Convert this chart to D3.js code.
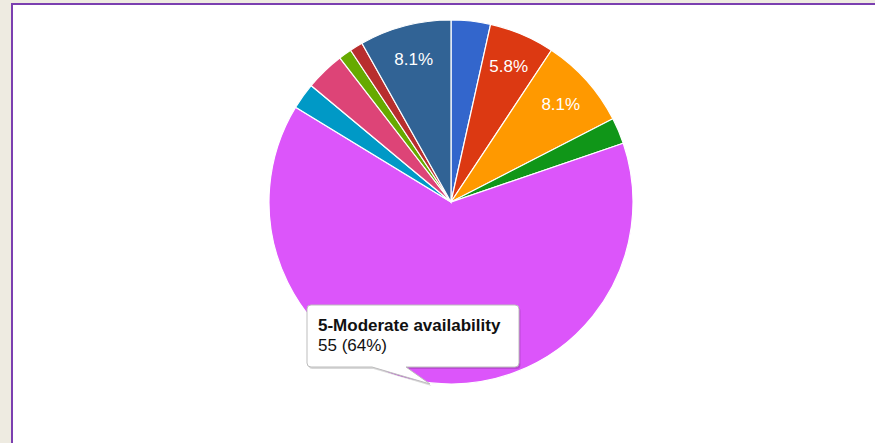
<!DOCTYPE html>
<html>
<head>
<meta charset="utf-8">
<script src="https://cdn.jsdelivr.net/npm/d3@7"></script>
<style>
  html, body { margin: 0; padding: 0; background: #eeebe1; }
  svg { display: block; }
</style>
</head>
<body>
<svg id="chart" width="875" height="443"></svg>
<script>
// Responses per availability category
const categories = [
  "1-Category A", "2-Category B", "3-Category C", "4-Category D",
  "5-Moderate availability", "6-Category F", "7-Category G",
  "8-Category H", "9-Category I", "10-Category J"
];
const counts = [3, 5, 7, 2, 55, 2, 3, 1, 1, 7];
const colors = [
  "#3366cc", "#dc3912", "#ff9900", "#109618", "#dc55fa",
  "#0099c6", "#dd4477", "#66aa00", "#b82e2e", "#316395"
];
const highlighted = "5-Moderate availability";

const svg = d3.select("#chart");
const W = 875, H = 443;

// page frame: white panel with purple top/left rule
svg.append("rect").attr("x", 11).attr("y", 3).attr("width", W).attr("height", H)
  .attr("fill", "#7b3fb0");
svg.append("rect").attr("x", 13).attr("y", 5).attr("width", W).attr("height", H)
  .attr("fill", "#ffffff");

const cx = 451, cy = 202, R = 182;
const total = d3.sum(counts);
const data = categories.map((c, i) => ({ name: c, value: counts[i], color: colors[i] }));

const pie = d3.pie().sort(null).value(d => d.value);
const arcs = pie(data);
const arc = d3.arc().innerRadius(0).outerRadius(R);
const labelArc = d3.arc().innerRadius(R * 0.81).outerRadius(R * 0.81);

const g = svg.append("g").attr("transform", `translate(${cx},${cy})`);

g.selectAll("path.slice").data(arcs).join("path")
  .attr("class", "slice")
  .attr("d", arc)
  .attr("fill", d => d.data.color)
  .attr("stroke", "#ffffff")
  .attr("stroke-width", 1.2);

const fmt = v => (v / total * 100).toFixed(1) + "%";

// percentage labels on slices wide enough to hold them
g.selectAll("text.pct").data(arcs.filter(d => d.data.value / total >= 0.05)).join("text")
  .attr("class", "pct")
  .attr("transform", d => `translate(${labelArc.centroid(d)})`)
  .attr("text-anchor", "middle")
  .attr("dy", "0.36em")
  .attr("font-family", "Liberation Sans, Arial, sans-serif")
  .attr("font-size", 17)
  .attr("fill", "#ffffff")
  .text(d => fmt(d.data.value));

// hover tooltip for the highlighted slice
const hi = data.find(d => d.name === highlighted);
const tipX = 307, tipY = 305, tipW = 212, tipH = 62;
const tail = [[372, tipY + tipH], [406, tipY + tipH], [430, 384]];

const tip = svg.append("g");
const tipPath = d3.path();
const r = 4;
tipPath.moveTo(tipX + r, tipY);
tipPath.lineTo(tipX + tipW - r, tipY);
tipPath.arcTo(tipX + tipW, tipY, tipX + tipW, tipY + r, r);
tipPath.lineTo(tipX + tipW, tipY + tipH - r);
tipPath.arcTo(tipX + tipW, tipY + tipH, tipX + tipW - r, tipY + tipH, r);
tipPath.lineTo(tail[1][0], tail[1][1]);
tipPath.lineTo(tail[2][0], tail[2][1]);
tipPath.lineTo(tail[0][0], tail[0][1]);
tipPath.lineTo(tipX + r, tipY + tipH);
tipPath.arcTo(tipX, tipY + tipH, tipX, tipY + tipH - r, r);
tipPath.lineTo(tipX, tipY + r);
tipPath.arcTo(tipX, tipY, tipX + r, tipY, r);
tipPath.closePath();

tip.append("path").attr("d", tipPath.toString())
  .attr("transform", "translate(1.5,2)")
  .attr("fill", "rgba(0,0,0,0.15)");
tip.append("path").attr("d", tipPath.toString())
  .attr("fill", "#ffffff")
  .attr("stroke", "#bdbdbd")
  .attr("stroke-width", 1);

tip.append("text")
  .attr("x", tipX + 11).attr("y", tipY + 26)
  .attr("font-family", "Liberation Sans, Arial, sans-serif")
  .attr("font-size", 17).attr("font-weight", "bold")
  .attr("fill", "#111111")
  .text(hi.name);
tip.append("text")
  .attr("x", tipX + 11).attr("y", tipY + 46)
  .attr("font-family", "Liberation Sans, Arial, sans-serif")
  .attr("font-size", 17)
  .attr("fill", "#111111")
  .text(`${hi.value} (${Math.round(hi.value / total * 100)}%)`);
</script>
</body>
</html>
